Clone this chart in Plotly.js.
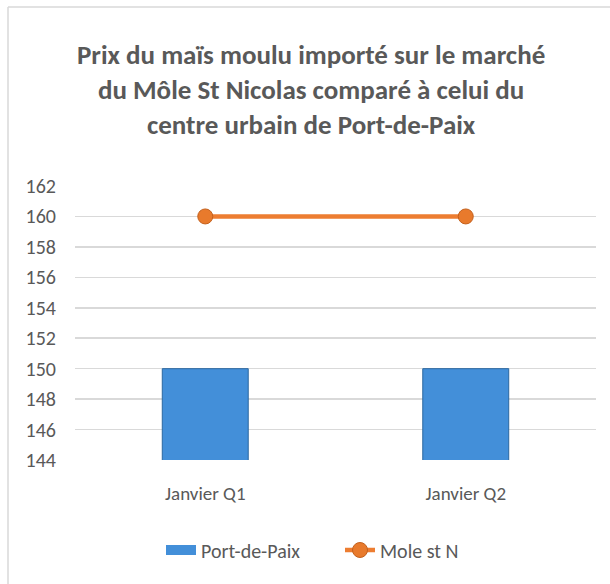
<!DOCTYPE html>
<html><head><meta charset="utf-8">
<script src="https://cdn.plot.ly/plotly-3.0.1.min.js"></script>
<style>html,body{margin:0;padding:0;background:#fff;overflow:hidden}#chart{width:610px;height:584px}</style>
</head><body><div id="chart"></div>
<script>
const categories = ["Janvier Q1", "Janvier Q2"];
const portDePaix = [150, 150];
const moleStN = [160, 160];
const yTicks = [144, 146, 148, 150, 152, 154, 156, 158, 160, 162];

const FONT = "Carlito, Lato, sans-serif";
const L = 75, R = 14, T = 186, B = 124, W = 610, H = 584;
const pw = W - L - R, ph = H - T - B;
const px = v => (v - L) / pw;
const py = v => (H - B - v) / ph;
const BLUE = '#438fd9';

const traces = [
  {type: 'bar', x: categories, y: portDePaix, name: 'Port-de-Paix', width: 0.33, showlegend: false,
   marker: {color: BLUE, line: {color: '#2b679f', width: 1}}},
  {type: 'scatter', mode: 'lines', x: [null], y: [null], name: 'Port-de-Paix', hoverinfo: 'skip',
   line: {color: BLUE, width: 10}},
  {type: 'scatter', mode: 'lines+markers', x: categories, y: moleStN, name: 'Mole st N',
   line: {color: '#ed7d31', width: 4.5},
   marker: {symbol: 'circle', size: 15, color: '#e87a2c', line: {color: '#c4601c', width: 1}}}
];

const layout = {
  width: W, height: H,
  margin: {l: L, r: R, t: T, b: B},
  paper_bgcolor: '#fff', plot_bgcolor: '#fff',
  font: {family: FONT, color: '#595959', size: 19},
  title: {text: 'Prix du maïs moulu importé sur le marché<br>du Môle St Nicolas comparé à celui du<br>centre urbain de Port-de-Paix',
    font: {family: FONT, size: 27, color: '#595959', weight: 'bold'},
    x: 0.51, xanchor: 'center', y: 1 - 64 / H, yanchor: 'top', yref: 'container'},
  xaxis: {type: 'category', showgrid: false, zeroline: false, showline: false, ticks: '',
    tickfont: {size: 19}, ticklabelstandoff: 20, fixedrange: true},
  yaxis: {range: [144, 162], tickvals: yTicks, ticktext: yTicks.map(String), showgrid: true, gridcolor: '#d9d9d9',
    gridwidth: 1.5, zeroline: false, showline: false, ticks: '', tickfont: {size: 20}, ticklabelstandoff: 18, fixedrange: true},
  bargap: 0,
  showlegend: true,
  legend: {orientation: 'h', x: px(161), xanchor: 'left', y: py(550), yanchor: 'middle',
    font: {size: 20, color: '#595959'}, entrywidth: 134, entrywidthmode: 'pixels', traceorder: 'normal'},
  shapes: [
    {type: 'line', xref: 'paper', yref: 'paper', x0: px(8), x1: px(620), y0: py(7), y1: py(7), line: {color: '#d9d9d9', width: 1.5}},
    {type: 'line', xref: 'paper', yref: 'paper', x0: px(8), x1: px(8), y0: py(7), y1: py(600), line: {color: '#d9d9d9', width: 1.5}}
  ]
};
Plotly.newPlot('chart', traces, layout, {displayModeBar: false, staticPlot: true});
</script></body></html>
